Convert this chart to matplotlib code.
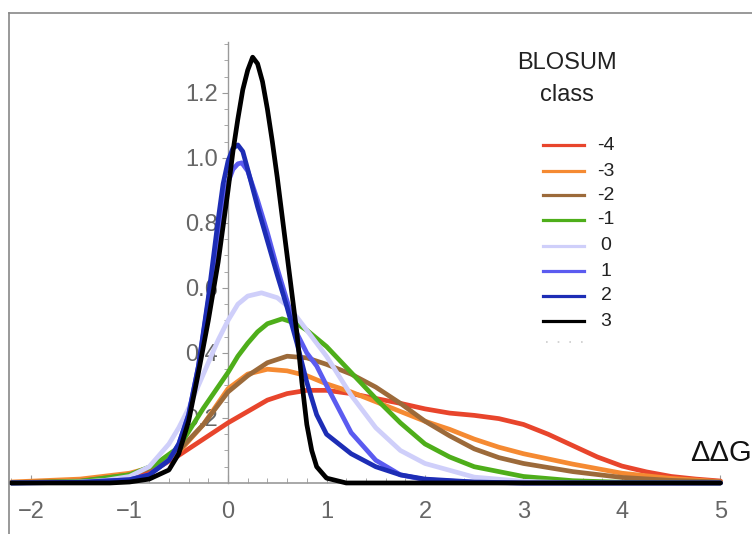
import numpy as np
import matplotlib
matplotlib.use("Agg")
import matplotlib.pyplot as plt
from matplotlib.lines import Line2D

plt.rcParams['font.family'] = ['Liberation Sans', 'DejaVu Sans']

# BLOSUM classes and their colours
classes = ["-4", "-3", "-2", "-1", "0", "1", "2", "3"]
colors = ["#E8452C", "#F58A32", "#9C6A3A", "#4EAE1A",
          "#CFCFFA", "#5B5BF0", "#1D2DB5", "#000000"]

# density curves (x = ddG, y = density)
x_m4 = [-2.2, -1.5, -1.0, -0.75, -0.5, -0.25, 0.0, 0.2, 0.4, 0.6, 0.8, 1.0, 1.25, 1.5, 1.75,
        2.0, 2.25, 2.5, 2.75, 3.0, 3.25, 3.5, 3.75, 4.0, 4.25, 4.5, 4.75, 5.0]
y_m4 = [0.001, 0.006, 0.02, 0.04, 0.085, 0.135, 0.185, 0.22, 0.255, 0.275, 0.285, 0.285, 0.275,
        0.26, 0.245, 0.228, 0.215, 0.208, 0.198, 0.18, 0.15, 0.115, 0.08, 0.052, 0.034, 0.02,
        0.012, 0.006]

x_m3 = [-2.2, -1.5, -1.0, -0.75, -0.5, -0.25, 0.0, 0.2, 0.4, 0.6, 0.8, 1.0, 1.25, 1.5, 1.75,
        2.0, 2.25, 2.5, 2.75, 3.0, 3.5, 4.0, 4.5, 5.0]
y_m3 = [0.003, 0.012, 0.03, 0.05, 0.095, 0.18, 0.29, 0.335, 0.35, 0.345, 0.33, 0.305, 0.28,
        0.25, 0.22, 0.19, 0.165, 0.135, 0.11, 0.09, 0.058, 0.03, 0.014, 0.004]

x_m2 = [-2.2, -1.5, -1.0, -0.75, -0.5, -0.25, 0.0, 0.2, 0.4, 0.6, 0.8, 1.0, 1.25, 1.5, 1.75,
        2.0, 2.25, 2.5, 2.75, 3.0, 3.5, 4.0, 4.5, 5.0]
y_m2 = [0.001, 0.006, 0.025, 0.05, 0.1, 0.18, 0.28, 0.33, 0.37, 0.39, 0.385, 0.365, 0.335,
        0.295, 0.245, 0.19, 0.145, 0.105, 0.078, 0.06, 0.035, 0.017, 0.008, 0.003]

x_m1 = [-2.2, -1.5, -1.0, -0.75, -0.5, -0.25, 0.0, 0.1, 0.2, 0.3, 0.4, 0.55, 0.7, 0.8, 1.0,
        1.25, 1.5, 1.75, 2.0, 2.25, 2.5, 3.0, 3.5, 4.0, 5.0]
y_m1 = [0.0, 0.005, 0.025, 0.055, 0.11, 0.23, 0.34, 0.39, 0.43, 0.465, 0.49, 0.505, 0.49,
        0.47, 0.42, 0.34, 0.26, 0.185, 0.12, 0.08, 0.05, 0.02, 0.007, 0.002, 0.0]

x_0 = [-2.2, -1.5, -1.25, -1.0, -0.8, -0.6, -0.5, -0.4, -0.3, -0.2, -0.1, 0.0, 0.1, 0.2, 0.34,
       0.5, 0.6, 0.7, 0.8, 0.9, 1.0, 1.25, 1.5, 1.75, 2.0, 2.5, 3.0, 3.5, 5.0]
y_0 = [0.0, 0.003, 0.008, 0.02, 0.05, 0.12, 0.17, 0.23, 0.3, 0.37, 0.44, 0.5, 0.55, 0.575,
       0.585, 0.57, 0.545, 0.51, 0.47, 0.43, 0.39, 0.27, 0.17, 0.1, 0.06, 0.018, 0.005, 0.0, 0.0]

x_1 = [-2.2, -1.5, -1.0, -0.8, -0.6, -0.5, -0.4, -0.3, -0.2, -0.1, -0.05, 0.0, 0.05, 0.1, 0.14,
       0.2, 0.3, 0.4, 0.5, 0.6, 0.7, 0.8, 0.9, 1.0, 1.25, 1.5, 1.75, 2.0, 2.5, 3.0, 5.0]
y_1 = [0.0, 0.002, 0.01, 0.025, 0.07, 0.12, 0.21, 0.36, 0.56, 0.76, 0.86, 0.925, 0.965, 0.982,
       0.985, 0.96, 0.87, 0.77, 0.66, 0.56, 0.46, 0.4, 0.36, 0.3, 0.155, 0.07, 0.025, 0.01,
       0.002, 0.0, 0.0]

x_2 = [-2.2, -1.5, -1.0, -0.8, -0.6, -0.5, -0.4, -0.3, -0.2, -0.1, -0.05, 0.0, 0.05, 0.1, 0.15,
       0.2, 0.3, 0.4, 0.5, 0.6, 0.7, 0.8, 0.9, 1.0, 1.25, 1.5, 1.75, 2.0, 2.5, 3.0, 5.0]
y_2 = [0.0, 0.002, 0.01, 0.025, 0.07, 0.12, 0.21, 0.36, 0.57, 0.81, 0.92, 0.99, 1.03, 1.04,
       1.02, 0.965, 0.85, 0.745, 0.64, 0.54, 0.43, 0.31, 0.21, 0.15, 0.09, 0.05, 0.025, 0.012,
       0.003, 0.0, 0.0]

x_3 = [-2.2, -1.2, -1.0, -0.8, -0.6, -0.5, -0.4, -0.3, -0.2, -0.15, -0.1, -0.05, 0.0, 0.05,
       0.1, 0.15, 0.2, 0.25, 0.3, 0.35, 0.4, 0.45, 0.5, 0.55, 0.6, 0.65, 0.7, 0.75, 0.8, 0.85,
       0.9, 1.0, 1.2, 5.0]
y_3 = [0.0, 0.0, 0.003, 0.012, 0.04, 0.09, 0.19, 0.34, 0.5, 0.59, 0.68, 0.79, 0.9, 1.02,
       1.12, 1.21, 1.27, 1.31, 1.29, 1.235, 1.15, 1.05, 0.94, 0.82, 0.7, 0.58, 0.46, 0.31, 0.18,
       0.1, 0.05, 0.015, 0.0, 0.0]

curves_x = [x_m4, x_m3, x_m2, x_m1, x_0, x_1, x_2, x_3]
curves_y = [y_m4, y_m3, y_m2, y_m1, y_0, y_1, y_2, y_3]

xticks = [-2, -1, 0, 1, 2, 3, 4, 5]
yticks = [0.2, 0.4, 0.6, 0.8, 1.0, 1.2]

W, H = 752, 534
fig = plt.figure(figsize=(W / 100, H / 100), dpi=100)
ax = fig.add_axes([0, 0, 1, 1])
ax.set_xlim(-2.315, 5.32)
ax.set_ylim(-0.157, 1.486)

for xs, ys, c in zip(curves_x, curves_y, colors):
    ax.plot(xs, ys, color=c, lw=3.4, solid_capstyle='round', solid_joinstyle='round', zorder=3)

axis_col = "#9a9a9a"
lab_col = "#666666"
for s in ["top", "right"]:
    ax.spines[s].set_visible(False)
ax.spines["left"].set_position(("data", 0))
ax.spines["bottom"].set_position(("data", 0))
ax.spines["left"].set_bounds(0, 1.356)
ax.spines["bottom"].set_bounds(-2.21, 5.0)
ax.spines["left"].set_color(axis_col)
ax.spines["bottom"].set_color(axis_col)
ax.spines["bottom"].set_linewidth(1.2)
ax.spines["left"].set_linewidth(1.0)

ax.set_xticks(xticks)
ax.set_xticklabels(["\u2212%d" % -t if t < 0 else str(t) for t in xticks])
ax.set_xticks(np.arange(-2.2, 5.01, 0.2), minor=True)
ax.set_yticks(yticks)
ax.set_yticklabels(["%.1f" % t for t in yticks])
ax.set_yticks(np.arange(0.05, 1.36, 0.05), minor=True)
ax.tick_params(axis="x", which="major", direction="in", length=6, width=0.8, color=axis_col,
               labelsize=17, labelcolor=lab_col, pad=13)
ax.tick_params(axis="x", which="minor", direction="in", length=3.5, width=0.6, color=axis_col)
ax.tick_params(axis="y", which="major", direction="out", length=4, width=0.8, color=axis_col,
               labelsize=17, labelcolor=lab_col, pad=3)
ax.tick_params(axis="y", which="minor", direction="out", length=3, width=0.6, color=axis_col)

ax.text(4.69, 0.092, "\u0394\u0394G", fontsize=21, color="#111111", va="center", ha="left")

# legend drawn in pixel positions
def fx(px):
    return px / W

def fy(py):
    return 1 - py / H

fig.text(fx(567), fy(63), "BLOSUM", fontsize=17, color="#222222", ha="center", va="center")
fig.text(fx(567), fy(95), "class", fontsize=17, color="#222222", ha="center", va="center")
rows = [145, 171, 195, 220, 246, 271, 296, 321]
for r, c, lab in zip(rows, colors, classes):
    fig.add_artist(Line2D([fx(543), fx(584)], [fy(r), fy(r)], color=c, lw=2.3,
                          transform=fig.transFigure))
    fig.text(fx(606), fy(r), lab, fontsize=14, color="#222222", ha="center", va="center")
fig.add_artist(Line2D([fx(546), fx(585)], [fy(342), fy(342)], color="#cccccc", lw=1.2,
                      ls=(0, (1, 6)), transform=fig.transFigure))

# frame of the original panel
fig.add_artist(Line2D([fx(9), fx(752)], [fy(13), fy(13)], color="#888888", lw=1.2,
                      transform=fig.transFigure))
fig.add_artist(Line2D([fx(9), fx(9)], [fy(13), fy(534)], color="#888888", lw=1.2,
                      transform=fig.transFigure))

fig.savefig("out.png", dpi=100)
